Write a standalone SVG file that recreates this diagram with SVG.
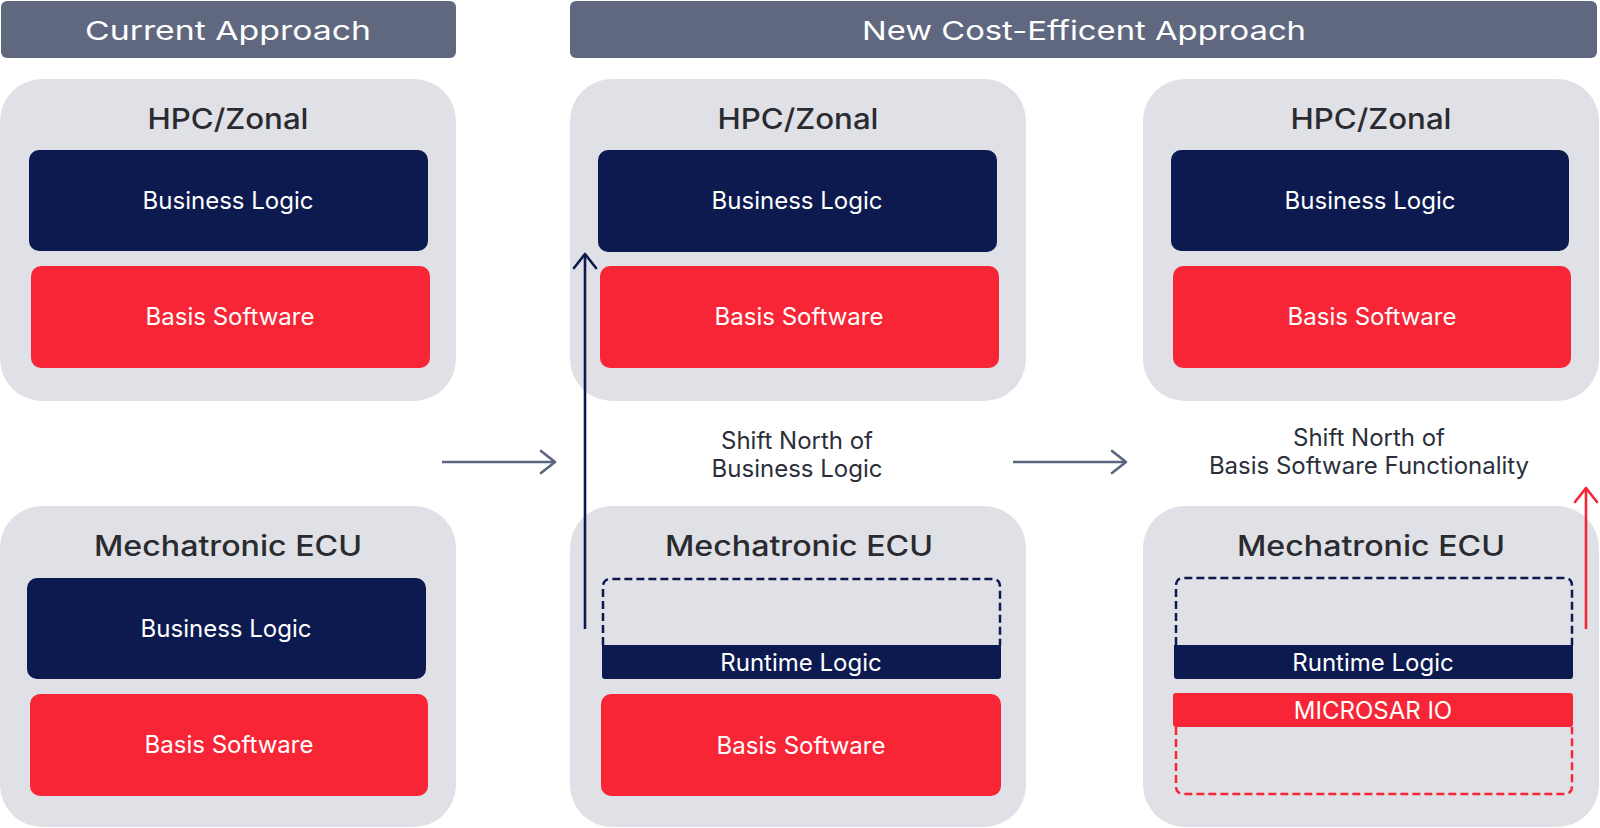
<svg xmlns="http://www.w3.org/2000/svg" width="1600" height="828" viewBox="0 0 1600 828">
<defs>
<style>
.hdr{fill:#606880}
.panel{fill:#e0e1e6}
.navy{fill:#0c1a50}
.red{fill:#f72535}
.htxt{font-family:Inter,"DejaVu Sans",sans-serif;font-weight:400;font-size:26px;fill:#ffffff;text-anchor:middle}
.ttl{font-family:Inter,"DejaVu Sans",sans-serif;font-weight:500;font-size:28px;fill:#2a2b30;text-anchor:middle}
.btxt{font-family:Inter,"Liberation Sans",sans-serif;font-size:24px;fill:#ffffff;text-anchor:middle}
.note{font-family:Inter,"Liberation Sans",sans-serif;font-size:24px;fill:#2b2f3a;text-anchor:middle}
.dashn{fill:none;stroke:#0c1a50;stroke-width:2.5;stroke-dasharray:8 4}
.dashr{fill:none;stroke:#f72535;stroke-width:2.5;stroke-dasharray:8 4}
</style>
<marker id="ag" markerWidth="20" markerHeight="28" refX="16" refY="13" orient="auto" markerUnits="userSpaceOnUse"><path d="M2,2 L16,13 L2,24" fill="none" stroke="#5a6580" stroke-width="2.6" stroke-linecap="round" stroke-linejoin="round"/></marker>
<marker id="an" markerWidth="20" markerHeight="28" refX="16" refY="13" orient="auto" markerUnits="userSpaceOnUse"><path d="M2,2 L16,13 L2,24" fill="none" stroke="#0c1a50" stroke-width="2.6" stroke-linecap="round" stroke-linejoin="round"/></marker>
<marker id="ar" markerWidth="20" markerHeight="28" refX="16" refY="13" orient="auto" markerUnits="userSpaceOnUse"><path d="M2,2 L16,13 L2,24" fill="none" stroke="#f72535" stroke-width="2.6" stroke-linecap="round" stroke-linejoin="round"/></marker>
</defs>
<rect width="1600" height="828" fill="#ffffff"/>

<g id="header-current">
<rect class="hdr" x="1" y="1" width="455" height="57" rx="6"/>
<text class="htxt" x="228" y="40" textLength="286" lengthAdjust="spacingAndGlyphs">Current Approach</text>
</g>
<g id="header-new">
<rect class="hdr" x="570" y="1" width="1027" height="57" rx="6"/>
<text class="htxt" x="1084" y="40" textLength="444" lengthAdjust="spacingAndGlyphs">New Cost-Efficent Approach</text>
</g>

<g id="hpc-current">
<rect class="panel" x="0" y="79" width="456" height="322" rx="42"/>
<text class="ttl" x="228" y="129" textLength="161" lengthAdjust="spacingAndGlyphs">HPC/Zonal</text>
<rect class="navy" x="29" y="150" width="399" height="101" rx="10"/>
<text class="btxt" x="228" y="209">Business Logic</text>
<rect class="red" x="31" y="266" width="399" height="102" rx="10"/>
<text class="btxt" x="230" y="325">Basis Software</text>
</g>

<g id="ecu-current">
<rect class="panel" x="0" y="506" width="456" height="321" rx="42"/>
<text class="ttl" x="228" y="556" textLength="268" lengthAdjust="spacingAndGlyphs">Mechatronic ECU</text>
<rect class="navy" x="27" y="578" width="399" height="101" rx="10"/>
<text class="btxt" x="226" y="637">Business Logic</text>
<rect class="red" x="30" y="694" width="398" height="102" rx="10"/>
<text class="btxt" x="229" y="753">Basis Software</text>
</g>

<g id="hpc-shift1">
<rect class="panel" x="570" y="79" width="456" height="322" rx="42"/>
<text class="ttl" x="798" y="129" textLength="161" lengthAdjust="spacingAndGlyphs">HPC/Zonal</text>
<rect class="navy" x="598" y="150" width="399" height="102" rx="10"/>
<text class="btxt" x="797" y="209">Business Logic</text>
<rect class="red" x="600" y="266" width="399" height="102" rx="10"/>
<text class="btxt" x="799" y="325">Basis Software</text>
</g>

<g id="ecu-shift1">
<rect class="panel" x="570" y="506" width="456" height="321" rx="42"/>
<text class="ttl" x="799" y="556" textLength="268" lengthAdjust="spacingAndGlyphs">Mechatronic ECU</text>
<path class="dashn" d="M603,645 L603,587 Q603,579 611,579 L992,579 Q1000,579 1000,587 L1000,645"/>
<path class="navy" d="M602,645 L1001,645 L1001,676 Q1001,679 998,679 L605,679 Q602,679 602,676 Z"/>
<text class="btxt" x="801" y="671">Runtime Logic</text>
<rect class="red" x="601" y="694" width="400" height="102" rx="10"/>
<text class="btxt" x="801" y="754">Basis Software</text>
</g>

<g id="hpc-shift2">
<rect class="panel" x="1143" y="79" width="456" height="322" rx="42"/>
<text class="ttl" x="1371" y="129" textLength="161" lengthAdjust="spacingAndGlyphs">HPC/Zonal</text>
<rect class="navy" x="1171" y="150" width="398" height="101" rx="10"/>
<text class="btxt" x="1370" y="209">Business Logic</text>
<rect class="red" x="1173" y="266" width="398" height="102" rx="10"/>
<text class="btxt" x="1372" y="325">Basis Software</text>
</g>

<g id="ecu-shift2">
<rect class="panel" x="1143" y="506" width="456" height="321" rx="42"/>
<text class="ttl" x="1371" y="556" textLength="268" lengthAdjust="spacingAndGlyphs">Mechatronic ECU</text>
<path class="dashn" d="M1176,645 L1176,586 Q1176,578 1184,578 L1564,578 Q1572,578 1572,586 L1572,645"/>
<path class="navy" d="M1174,645 L1573,645 L1573,676 Q1573,679 1570,679 L1177,679 Q1174,679 1174,676 Z"/>
<text class="btxt" x="1373" y="671">Runtime Logic</text>
<path class="dashr" d="M1176,727 L1176,786 Q1176,794 1184,794 L1564,794 Q1572,794 1572,786 L1572,727"/>
<rect class="red" x="1173" y="693" width="400" height="34" rx="3"/>
<text class="btxt" x="1373" y="719">MICROSAR IO</text>
</g>

<g id="label-shift1">
<text class="note" x="797" y="449">Shift North of</text>
<text class="note" x="797" y="477">Business Logic</text>
</g>
<g id="label-shift2">
<text class="note" x="1369" y="446">Shift North of</text>
<text class="note" x="1369" y="474">Basis Software Functionality</text>
</g>

<g id="connectors">
<line x1="442" y1="462" x2="555" y2="462" stroke="#5a6580" stroke-width="2.6" marker-end="url(#ag)"/>
<line x1="1013" y1="462" x2="1126" y2="462" stroke="#5a6580" stroke-width="2.6" marker-end="url(#ag)"/>
<line x1="585" y1="629" x2="585" y2="254" stroke="#0c1a50" stroke-width="2.6" marker-end="url(#an)"/>
<line x1="1586" y1="629" x2="1586" y2="488" stroke="#f72535" stroke-width="2.6" marker-end="url(#ar)"/>
</g>
</svg>
